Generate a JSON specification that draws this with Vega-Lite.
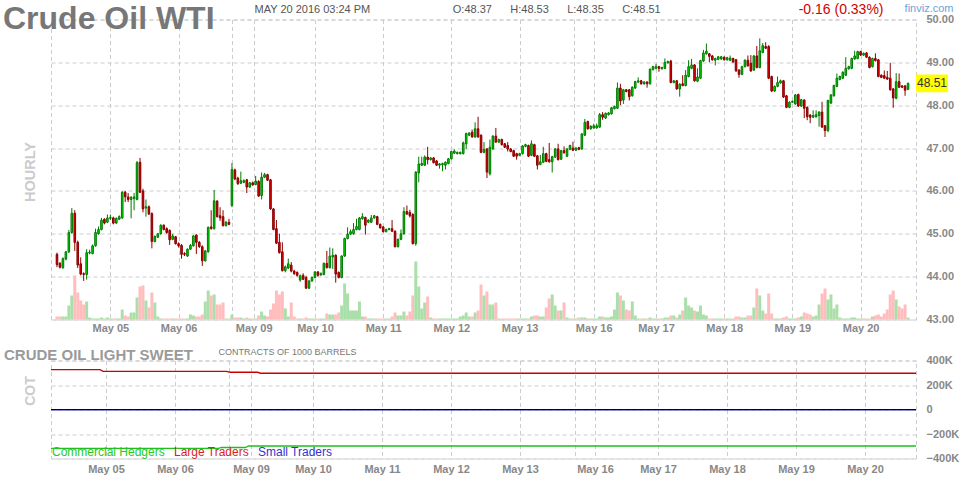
{
  "$schema": "https://vega.github.io/schema/vega-lite/v6.json",
  "padding": {"left": 2, "top": 1.5, "right": 5, "bottom": 2},
  "spacing": 41,
  "bounds": "flush",
  "resolve": {"scale": {"color": "independent"}, "legend": {"color": "independent"}},
  "config": {
    "font": "Liberation Sans",
    "view": {"stroke": "#cccccc", "strokeDash": [4, 3]},
    "axis": {"domain": false, "ticks": false, "tickSize": 0, "labelColor": "#888888", "labelFontSize": 11, "labelFontWeight": "bold", "gridColor": "#cccccc", "gridDash": [4, 3], "gridWidth": 1}
  },
  "datasets": {
    "candles": [
      {"i":0,"o":44.52,"h":44.56,"l":44.22,"c":44.28,"v":3},
      {"i":1,"o":44.31,"h":44.34,"l":44.19,"c":44.22,"v":3},
      {"i":2,"o":44.21,"h":44.45,"l":44.18,"c":44.42,"v":3},
      {"i":3,"o":44.41,"h":44.6,"l":44.38,"c":44.58,"v":3},
      {"i":4,"o":44.58,"h":45.09,"l":44.55,"c":45.03,"v":14},
      {"i":5,"o":45.03,"h":45.6,"l":45.0,"c":45.48,"v":24},
      {"i":6,"o":45.48,"h":45.55,"l":44.6,"c":44.8,"v":44},
      {"i":7,"o":44.8,"h":44.84,"l":44.2,"c":44.27,"v":27},
      {"i":8,"o":44.3,"h":44.45,"l":44.03,"c":44.06,"v":19},
      {"i":9,"o":44.07,"h":44.1,"l":43.9,"c":44.05,"v":15},
      {"i":10,"o":44.05,"h":44.64,"l":43.93,"c":44.56,"v":18},
      {"i":11,"o":44.55,"h":44.63,"l":44.52,"c":44.57,"v":2},
      {"i":12,"o":44.54,"h":44.75,"l":44.52,"c":44.72,"v":1},
      {"i":13,"o":44.72,"h":45.12,"l":44.7,"c":45.03,"v":1},
      {"i":14,"o":45.0,"h":45.17,"l":44.98,"c":45.1,"v":1},
      {"i":15,"o":45.1,"h":45.37,"l":45.08,"c":45.32,"v":2},
      {"i":16,"o":45.34,"h":45.36,"l":45.22,"c":45.25,"v":1},
      {"i":17,"o":45.27,"h":45.45,"l":45.25,"c":45.37,"v":2},
      {"i":18,"o":45.36,"h":45.45,"l":45.32,"c":45.38,"v":1},
      {"i":19,"o":45.37,"h":45.4,"l":45.22,"c":45.25,"v":1},
      {"i":20,"o":45.25,"h":45.38,"l":45.23,"c":45.36,"v":1},
      {"i":21,"o":45.34,"h":45.43,"l":45.32,"c":45.4,"v":1},
      {"i":22,"o":45.37,"h":45.99,"l":45.35,"c":45.97,"v":10},
      {"i":23,"o":45.97,"h":46.0,"l":45.74,"c":45.86,"v":4},
      {"i":24,"o":45.86,"h":45.95,"l":45.74,"c":45.8,"v":3},
      {"i":25,"o":45.8,"h":45.88,"l":45.36,"c":45.85,"v":7},
      {"i":26,"o":45.82,"h":45.95,"l":45.55,"c":45.86,"v":7},
      {"i":27,"o":45.8,"h":46.7,"l":45.78,"c":46.66,"v":22},
      {"i":28,"o":46.67,"h":46.77,"l":45.95,"c":45.97,"v":33},
      {"i":29,"o":46.0,"h":46.05,"l":45.5,"c":45.58,"v":34},
      {"i":30,"o":45.6,"h":45.8,"l":45.4,"c":45.63,"v":19},
      {"i":31,"o":45.63,"h":45.66,"l":45.44,"c":45.46,"v":12},
      {"i":32,"o":45.47,"h":45.5,"l":44.66,"c":44.82,"v":27},
      {"i":33,"o":44.82,"h":44.96,"l":44.8,"c":44.94,"v":17},
      {"i":34,"o":44.92,"h":45.02,"l":44.9,"c":45.0,"v":3},
      {"i":35,"o":45.0,"h":45.22,"l":44.98,"c":45.2,"v":1},
      {"i":36,"o":45.2,"h":45.22,"l":45.08,"c":45.1,"v":1},
      {"i":37,"o":45.12,"h":45.15,"l":45.0,"c":45.03,"v":1},
      {"i":38,"o":45.08,"h":45.1,"l":44.74,"c":44.86,"v":1},
      {"i":39,"o":44.87,"h":45.0,"l":44.85,"c":44.95,"v":1},
      {"i":40,"o":44.93,"h":44.95,"l":44.75,"c":44.77,"v":1},
      {"i":41,"o":44.77,"h":44.8,"l":44.68,"c":44.72,"v":1},
      {"i":42,"o":44.73,"h":44.76,"l":44.42,"c":44.52,"v":1},
      {"i":43,"o":44.54,"h":44.57,"l":44.48,"c":44.52,"v":1},
      {"i":44,"o":44.48,"h":44.66,"l":44.46,"c":44.64,"v":1},
      {"i":45,"o":44.64,"h":44.76,"l":44.62,"c":44.73,"v":5},
      {"i":46,"o":44.72,"h":44.97,"l":44.7,"c":44.95,"v":4},
      {"i":47,"o":44.97,"h":44.99,"l":44.53,"c":44.8,"v":3},
      {"i":48,"o":44.8,"h":44.83,"l":44.67,"c":44.7,"v":3},
      {"i":49,"o":44.7,"h":44.73,"l":44.25,"c":44.37,"v":5},
      {"i":50,"o":44.37,"h":44.62,"l":44.35,"c":44.6,"v":18},
      {"i":51,"o":44.58,"h":45.17,"l":44.56,"c":45.15,"v":29},
      {"i":52,"o":45.16,"h":45.55,"l":45.1,"c":45.12,"v":24},
      {"i":53,"o":45.12,"h":46.02,"l":45.1,"c":45.77,"v":25},
      {"i":54,"o":45.76,"h":45.79,"l":45.38,"c":45.4,"v":15},
      {"i":55,"o":45.42,"h":45.62,"l":45.3,"c":45.37,"v":15},
      {"i":56,"o":45.4,"h":45.55,"l":45.17,"c":45.19,"v":17},
      {"i":57,"o":45.19,"h":45.3,"l":45.17,"c":45.27,"v":1},
      {"i":58,"o":45.27,"h":45.35,"l":45.2,"c":45.22,"v":1},
      {"i":59,"o":45.66,"h":46.65,"l":45.62,"c":46.5,"v":5},
      {"i":60,"o":46.49,"h":46.52,"l":46.25,"c":46.28,"v":2},
      {"i":61,"o":46.3,"h":46.33,"l":46.14,"c":46.17,"v":2},
      {"i":62,"o":46.18,"h":46.45,"l":46.16,"c":46.24,"v":2},
      {"i":63,"o":46.2,"h":46.27,"l":46.18,"c":46.24,"v":1},
      {"i":64,"o":46.26,"h":46.28,"l":45.95,"c":46.09,"v":2},
      {"i":65,"o":46.09,"h":46.21,"l":46.07,"c":46.19,"v":1},
      {"i":66,"o":46.19,"h":46.22,"l":46.12,"c":46.14,"v":1},
      {"i":67,"o":46.15,"h":46.35,"l":46.13,"c":46.23,"v":1},
      {"i":68,"o":46.22,"h":46.25,"l":45.86,"c":45.88,"v":4},
      {"i":69,"o":45.89,"h":46.43,"l":45.8,"c":46.32,"v":8},
      {"i":70,"o":46.32,"h":46.42,"l":46.3,"c":46.38,"v":4},
      {"i":71,"o":46.38,"h":46.4,"l":46.23,"c":46.25,"v":3},
      {"i":72,"o":46.26,"h":46.28,"l":45.56,"c":45.58,"v":10},
      {"i":73,"o":45.58,"h":45.6,"l":45.08,"c":45.1,"v":16},
      {"i":74,"o":45.12,"h":45.32,"l":44.76,"c":44.78,"v":29},
      {"i":75,"o":44.8,"h":45.0,"l":44.54,"c":44.56,"v":25},
      {"i":76,"o":44.58,"h":44.8,"l":44.12,"c":44.14,"v":28},
      {"i":77,"o":44.14,"h":44.26,"l":44.1,"c":44.23,"v":11},
      {"i":78,"o":44.2,"h":44.42,"l":44.18,"c":44.3,"v":3},
      {"i":79,"o":44.27,"h":44.34,"l":44.1,"c":44.13,"v":17},
      {"i":80,"o":44.13,"h":44.16,"l":44.04,"c":44.07,"v":3},
      {"i":81,"o":44.1,"h":44.12,"l":44.0,"c":44.03,"v":1},
      {"i":82,"o":43.92,"h":44.05,"l":43.88,"c":44.02,"v":1},
      {"i":83,"o":44.03,"h":44.08,"l":43.92,"c":43.94,"v":1},
      {"i":84,"o":43.98,"h":44.02,"l":43.72,"c":43.73,"v":2},
      {"i":85,"o":43.73,"h":43.92,"l":43.71,"c":43.9,"v":1},
      {"i":86,"o":43.9,"h":44.0,"l":43.88,"c":43.98,"v":1},
      {"i":87,"o":43.98,"h":44.13,"l":43.96,"c":44.11,"v":1},
      {"i":88,"o":44.11,"h":44.13,"l":44.0,"c":44.03,"v":1},
      {"i":89,"o":44.04,"h":44.1,"l":44.02,"c":44.07,"v":1},
      {"i":90,"o":44.05,"h":44.33,"l":44.03,"c":44.31,"v":1},
      {"i":91,"o":44.31,"h":44.6,"l":44.19,"c":44.21,"v":6},
      {"i":92,"o":44.21,"h":44.68,"l":44.19,"c":44.48,"v":5},
      {"i":93,"o":44.46,"h":44.66,"l":44.18,"c":44.5,"v":5},
      {"i":94,"o":44.5,"h":44.52,"l":43.86,"c":44.06,"v":5},
      {"i":95,"o":44.1,"h":44.12,"l":43.96,"c":43.98,"v":7},
      {"i":96,"o":43.98,"h":44.5,"l":43.96,"c":44.48,"v":14},
      {"i":97,"o":44.48,"h":44.91,"l":44.46,"c":44.89,"v":36},
      {"i":98,"o":44.89,"h":45.15,"l":44.87,"c":44.99,"v":26},
      {"i":99,"o":44.99,"h":45.1,"l":44.97,"c":45.05,"v":9},
      {"i":100,"o":45.0,"h":45.25,"l":44.98,"c":45.1,"v":9},
      {"i":101,"o":45.1,"h":45.35,"l":45.08,"c":45.17,"v":9},
      {"i":102,"o":45.1,"h":45.39,"l":45.08,"c":45.37,"v":18},
      {"i":103,"o":45.35,"h":45.48,"l":45.33,"c":45.4,"v":3},
      {"i":104,"o":45.38,"h":45.4,"l":44.98,"c":45.2,"v":3},
      {"i":105,"o":45.27,"h":45.34,"l":45.25,"c":45.32,"v":1},
      {"i":106,"o":45.27,"h":45.44,"l":45.25,"c":45.37,"v":1},
      {"i":107,"o":45.37,"h":45.44,"l":45.35,"c":45.42,"v":1},
      {"i":108,"o":45.4,"h":45.42,"l":45.2,"c":45.22,"v":1},
      {"i":109,"o":45.22,"h":45.24,"l":45.12,"c":45.14,"v":1},
      {"i":110,"o":45.16,"h":45.18,"l":45.03,"c":45.05,"v":1},
      {"i":111,"o":45.05,"h":45.12,"l":45.03,"c":45.1,"v":1},
      {"i":112,"o":45.1,"h":45.14,"l":45.08,"c":45.12,"v":1},
      {"i":113,"o":45.12,"h":45.32,"l":45.04,"c":45.06,"v":3},
      {"i":114,"o":45.06,"h":45.08,"l":44.68,"c":44.7,"v":7},
      {"i":115,"o":44.7,"h":44.89,"l":44.68,"c":44.87,"v":4},
      {"i":116,"o":44.87,"h":45.1,"l":44.85,"c":45.0,"v":4},
      {"i":117,"o":45.0,"h":45.62,"l":44.98,"c":45.52,"v":8},
      {"i":118,"o":45.52,"h":45.66,"l":45.44,"c":45.46,"v":4},
      {"i":119,"o":45.5,"h":45.56,"l":45.38,"c":45.42,"v":8},
      {"i":120,"o":45.45,"h":45.48,"l":44.75,"c":44.77,"v":24},
      {"i":121,"o":44.77,"h":46.46,"l":44.72,"c":46.44,"v":58},
      {"i":122,"o":46.42,"h":46.8,"l":46.2,"c":46.63,"v":33},
      {"i":123,"o":46.6,"h":46.8,"l":46.58,"c":46.64,"v":11},
      {"i":124,"o":46.6,"h":46.83,"l":46.58,"c":46.79,"v":17},
      {"i":125,"o":46.79,"h":47.03,"l":46.62,"c":46.73,"v":23},
      {"i":126,"o":46.73,"h":46.79,"l":46.71,"c":46.77,"v":2},
      {"i":127,"o":46.77,"h":46.79,"l":46.64,"c":46.66,"v":1},
      {"i":128,"o":46.7,"h":46.72,"l":46.58,"c":46.6,"v":1},
      {"i":129,"o":46.6,"h":46.65,"l":46.52,"c":46.63,"v":1},
      {"i":130,"o":46.61,"h":46.66,"l":46.46,"c":46.64,"v":1},
      {"i":131,"o":46.6,"h":46.69,"l":46.5,"c":46.67,"v":1},
      {"i":132,"o":46.64,"h":46.77,"l":46.62,"c":46.75,"v":1},
      {"i":133,"o":46.75,"h":46.94,"l":46.73,"c":46.92,"v":1},
      {"i":134,"o":46.88,"h":46.97,"l":46.86,"c":46.93,"v":1},
      {"i":135,"o":46.87,"h":46.92,"l":46.85,"c":46.9,"v":1},
      {"i":136,"o":46.87,"h":46.92,"l":46.85,"c":46.9,"v":3},
      {"i":137,"o":46.87,"h":47.15,"l":46.85,"c":47.12,"v":4},
      {"i":138,"o":47.1,"h":47.36,"l":46.98,"c":47.34,"v":7},
      {"i":139,"o":47.3,"h":47.37,"l":47.28,"c":47.35,"v":3},
      {"i":140,"o":47.37,"h":47.43,"l":47.24,"c":47.26,"v":3},
      {"i":141,"o":47.26,"h":47.6,"l":47.24,"c":47.45,"v":7},
      {"i":142,"o":47.45,"h":47.73,"l":47.24,"c":47.26,"v":9},
      {"i":143,"o":47.3,"h":47.32,"l":46.88,"c":46.9,"v":35},
      {"i":144,"o":46.9,"h":47.14,"l":46.88,"c":46.97,"v":24},
      {"i":145,"o":46.98,"h":47.0,"l":46.3,"c":46.44,"v":28},
      {"i":146,"o":46.4,"h":47.2,"l":46.36,"c":47.02,"v":15},
      {"i":147,"o":46.98,"h":47.3,"l":46.96,"c":47.28,"v":15},
      {"i":148,"o":47.28,"h":47.47,"l":47.12,"c":47.14,"v":17},
      {"i":149,"o":47.14,"h":47.22,"l":47.12,"c":47.2,"v":1},
      {"i":150,"o":47.2,"h":47.22,"l":47.06,"c":47.08,"v":1},
      {"i":151,"o":47.1,"h":47.12,"l":47.0,"c":47.02,"v":1},
      {"i":152,"o":47.06,"h":47.14,"l":46.92,"c":46.98,"v":1},
      {"i":153,"o":46.98,"h":47.0,"l":46.9,"c":46.92,"v":1},
      {"i":154,"o":46.94,"h":46.96,"l":46.79,"c":46.81,"v":1},
      {"i":155,"o":46.87,"h":46.89,"l":46.73,"c":46.81,"v":1},
      {"i":156,"o":46.83,"h":46.89,"l":46.81,"c":46.87,"v":1},
      {"i":157,"o":46.87,"h":47.07,"l":46.85,"c":47.05,"v":1},
      {"i":158,"o":47.04,"h":47.1,"l":47.02,"c":47.08,"v":1},
      {"i":159,"o":47.06,"h":47.08,"l":46.79,"c":46.81,"v":1},
      {"i":160,"o":46.83,"h":47.18,"l":46.81,"c":47.1,"v":3},
      {"i":161,"o":47.08,"h":47.1,"l":46.79,"c":46.81,"v":4},
      {"i":162,"o":46.82,"h":46.84,"l":46.5,"c":46.6,"v":4},
      {"i":163,"o":46.62,"h":46.84,"l":46.6,"c":46.68,"v":3},
      {"i":164,"o":46.67,"h":47.03,"l":46.65,"c":46.87,"v":3},
      {"i":165,"o":46.87,"h":46.89,"l":46.67,"c":46.69,"v":12},
      {"i":166,"o":46.73,"h":47.12,"l":46.66,"c":46.68,"v":21},
      {"i":167,"o":46.68,"h":46.82,"l":46.43,"c":46.8,"v":25},
      {"i":168,"o":46.79,"h":47.0,"l":46.77,"c":46.98,"v":14},
      {"i":169,"o":46.98,"h":47.1,"l":46.71,"c":46.73,"v":9},
      {"i":170,"o":46.74,"h":46.96,"l":46.72,"c":46.94,"v":9},
      {"i":171,"o":46.94,"h":47.04,"l":46.87,"c":46.89,"v":17},
      {"i":172,"o":46.81,"h":47.0,"l":46.79,"c":46.98,"v":2},
      {"i":173,"o":46.97,"h":47.08,"l":46.95,"c":47.06,"v":1},
      {"i":174,"o":47.0,"h":47.15,"l":46.93,"c":46.95,"v":1},
      {"i":175,"o":46.95,"h":47.02,"l":46.93,"c":47.0,"v":1},
      {"i":176,"o":47.01,"h":47.03,"l":46.95,"c":46.97,"v":2},
      {"i":177,"o":46.98,"h":47.35,"l":46.96,"c":47.33,"v":2},
      {"i":178,"o":47.3,"h":47.68,"l":47.28,"c":47.6,"v":2},
      {"i":179,"o":47.62,"h":47.64,"l":47.43,"c":47.45,"v":1},
      {"i":180,"o":47.45,"h":47.53,"l":47.43,"c":47.51,"v":1},
      {"i":181,"o":47.47,"h":47.57,"l":47.45,"c":47.52,"v":1},
      {"i":182,"o":47.47,"h":47.57,"l":47.45,"c":47.52,"v":1},
      {"i":183,"o":47.49,"h":47.82,"l":47.47,"c":47.78,"v":3},
      {"i":184,"o":47.78,"h":47.84,"l":47.66,"c":47.72,"v":3},
      {"i":185,"o":47.7,"h":47.83,"l":47.68,"c":47.81,"v":2},
      {"i":186,"o":47.78,"h":47.84,"l":47.76,"c":47.82,"v":2},
      {"i":187,"o":47.8,"h":47.96,"l":47.78,"c":47.94,"v":3},
      {"i":188,"o":47.92,"h":47.99,"l":47.9,"c":47.97,"v":10},
      {"i":189,"o":47.93,"h":48.53,"l":47.91,"c":48.4,"v":27},
      {"i":190,"o":48.4,"h":48.5,"l":48.0,"c":48.1,"v":24},
      {"i":191,"o":48.12,"h":48.38,"l":48.03,"c":48.36,"v":19},
      {"i":192,"o":48.36,"h":48.38,"l":48.3,"c":48.32,"v":10},
      {"i":193,"o":48.36,"h":48.38,"l":48.11,"c":48.2,"v":9},
      {"i":194,"o":48.22,"h":48.44,"l":48.2,"c":48.42,"v":18},
      {"i":195,"o":48.4,"h":48.57,"l":48.38,"c":48.55,"v":4},
      {"i":196,"o":48.54,"h":48.65,"l":48.52,"c":48.57,"v":1},
      {"i":197,"o":48.57,"h":48.59,"l":48.48,"c":48.5,"v":1},
      {"i":198,"o":48.5,"h":48.56,"l":48.48,"c":48.54,"v":1},
      {"i":199,"o":48.54,"h":48.56,"l":48.41,"c":48.5,"v":1},
      {"i":200,"o":48.5,"h":48.86,"l":48.48,"c":48.84,"v":2},
      {"i":201,"o":48.83,"h":48.92,"l":48.81,"c":48.9,"v":1},
      {"i":202,"o":48.86,"h":48.96,"l":48.84,"c":48.9,"v":1},
      {"i":203,"o":48.9,"h":48.92,"l":48.78,"c":48.86,"v":1},
      {"i":204,"o":48.85,"h":48.9,"l":48.83,"c":48.88,"v":1},
      {"i":205,"o":48.86,"h":49.09,"l":48.84,"c":49.0,"v":2},
      {"i":206,"o":48.99,"h":49.04,"l":48.97,"c":49.02,"v":2},
      {"i":207,"o":49.03,"h":49.06,"l":48.51,"c":48.53,"v":4},
      {"i":208,"o":48.53,"h":48.59,"l":48.51,"c":48.57,"v":4},
      {"i":209,"o":48.57,"h":48.59,"l":48.36,"c":48.38,"v":2},
      {"i":210,"o":48.38,"h":48.51,"l":48.2,"c":48.49,"v":5},
      {"i":211,"o":48.5,"h":48.7,"l":48.44,"c":48.46,"v":9},
      {"i":212,"o":48.46,"h":48.82,"l":48.44,"c":48.7,"v":22},
      {"i":213,"o":48.67,"h":49.05,"l":48.65,"c":48.9,"v":14},
      {"i":214,"o":48.86,"h":49.08,"l":48.84,"c":48.94,"v":12},
      {"i":215,"o":48.94,"h":48.96,"l":48.55,"c":48.57,"v":9},
      {"i":216,"o":48.56,"h":48.86,"l":48.54,"c":48.66,"v":8},
      {"i":217,"o":48.63,"h":49.06,"l":48.61,"c":49.04,"v":14},
      {"i":218,"o":49.03,"h":49.29,"l":49.01,"c":49.22,"v":5},
      {"i":219,"o":49.2,"h":49.44,"l":49.18,"c":49.26,"v":4},
      {"i":220,"o":49.2,"h":49.22,"l":49.0,"c":49.14,"v":1},
      {"i":221,"o":49.15,"h":49.17,"l":49.04,"c":49.06,"v":1},
      {"i":222,"o":49.05,"h":49.11,"l":48.93,"c":49.09,"v":1},
      {"i":223,"o":49.07,"h":49.15,"l":49.05,"c":49.13,"v":1},
      {"i":224,"o":49.08,"h":49.15,"l":49.06,"c":49.13,"v":1},
      {"i":225,"o":49.12,"h":49.14,"l":49.04,"c":49.06,"v":1},
      {"i":226,"o":49.06,"h":49.13,"l":49.04,"c":49.11,"v":1},
      {"i":227,"o":49.05,"h":49.16,"l":49.03,"c":49.1,"v":1},
      {"i":228,"o":49.09,"h":49.11,"l":48.99,"c":49.01,"v":1},
      {"i":229,"o":49.06,"h":49.08,"l":48.78,"c":48.8,"v":3},
      {"i":230,"o":48.82,"h":48.84,"l":48.64,"c":48.72,"v":3},
      {"i":231,"o":48.72,"h":48.92,"l":48.7,"c":48.9,"v":2},
      {"i":232,"o":48.9,"h":49.07,"l":48.88,"c":49.05,"v":2},
      {"i":233,"o":49.05,"h":49.16,"l":48.9,"c":48.92,"v":4},
      {"i":234,"o":48.98,"h":49.17,"l":48.78,"c":48.8,"v":4},
      {"i":235,"o":48.82,"h":49.17,"l":48.8,"c":49.15,"v":12},
      {"i":236,"o":49.15,"h":49.38,"l":48.86,"c":48.88,"v":31},
      {"i":237,"o":48.88,"h":49.56,"l":48.86,"c":49.27,"v":24},
      {"i":238,"o":49.23,"h":49.45,"l":49.21,"c":49.39,"v":9},
      {"i":239,"o":49.37,"h":49.47,"l":49.31,"c":49.33,"v":6},
      {"i":240,"o":49.37,"h":49.4,"l":48.61,"c":48.63,"v":26},
      {"i":241,"o":48.67,"h":48.69,"l":48.31,"c":48.33,"v":6},
      {"i":242,"o":48.33,"h":48.46,"l":48.31,"c":48.44,"v":1},
      {"i":243,"o":48.44,"h":48.67,"l":48.42,"c":48.53,"v":1},
      {"i":244,"o":48.52,"h":48.6,"l":48.5,"c":48.57,"v":1},
      {"i":245,"o":48.57,"h":48.59,"l":48.17,"c":48.19,"v":2},
      {"i":246,"o":48.22,"h":48.24,"l":47.93,"c":47.95,"v":3},
      {"i":247,"o":47.95,"h":48.09,"l":47.93,"c":48.07,"v":1},
      {"i":248,"o":48.07,"h":48.11,"l":48.05,"c":48.09,"v":1},
      {"i":249,"o":48.03,"h":48.26,"l":48.01,"c":48.24,"v":1},
      {"i":250,"o":48.25,"h":48.27,"l":47.96,"c":47.98,"v":2},
      {"i":251,"o":47.98,"h":48.15,"l":47.96,"c":48.13,"v":3},
      {"i":252,"o":48.12,"h":48.14,"l":47.7,"c":47.93,"v":7},
      {"i":253,"o":47.95,"h":47.97,"l":47.65,"c":47.73,"v":6},
      {"i":254,"o":47.77,"h":47.79,"l":47.58,"c":47.72,"v":5},
      {"i":255,"o":47.72,"h":47.88,"l":47.7,"c":47.76,"v":3},
      {"i":256,"o":47.73,"h":47.88,"l":47.71,"c":47.78,"v":4},
      {"i":257,"o":47.76,"h":47.86,"l":47.5,"c":47.84,"v":15},
      {"i":258,"o":47.84,"h":48.08,"l":47.47,"c":47.49,"v":26},
      {"i":259,"o":47.52,"h":47.54,"l":47.26,"c":47.41,"v":31},
      {"i":260,"o":47.41,"h":48.13,"l":47.37,"c":48.11,"v":20},
      {"i":261,"o":48.05,"h":48.26,"l":48.03,"c":48.24,"v":25},
      {"i":262,"o":48.22,"h":48.48,"l":48.2,"c":48.46,"v":11},
      {"i":263,"o":48.44,"h":48.74,"l":48.42,"c":48.63,"v":15},
      {"i":264,"o":48.6,"h":48.69,"l":48.58,"c":48.67,"v":2},
      {"i":265,"o":48.63,"h":48.79,"l":48.61,"c":48.77,"v":1},
      {"i":266,"o":48.7,"h":49.12,"l":48.68,"c":48.86,"v":1},
      {"i":267,"o":48.85,"h":48.92,"l":48.83,"c":48.9,"v":1},
      {"i":268,"o":48.86,"h":49.11,"l":48.84,"c":49.09,"v":2},
      {"i":269,"o":49.08,"h":49.27,"l":49.06,"c":49.15,"v":2},
      {"i":270,"o":49.09,"h":49.27,"l":49.07,"c":49.25,"v":1},
      {"i":271,"o":49.25,"h":49.27,"l":49.15,"c":49.17,"v":1},
      {"i":272,"o":49.17,"h":49.23,"l":49.15,"c":49.21,"v":1},
      {"i":273,"o":49.22,"h":49.24,"l":49.1,"c":49.12,"v":1},
      {"i":274,"o":49.12,"h":49.14,"l":48.86,"c":48.88,"v":1},
      {"i":275,"o":48.9,"h":49.11,"l":48.88,"c":49.09,"v":3},
      {"i":276,"o":49.09,"h":49.21,"l":49.02,"c":49.04,"v":4},
      {"i":277,"o":49.06,"h":49.08,"l":48.65,"c":48.67,"v":5},
      {"i":278,"o":48.7,"h":48.72,"l":48.63,"c":48.65,"v":3},
      {"i":279,"o":48.69,"h":48.81,"l":48.61,"c":48.63,"v":6},
      {"i":280,"o":48.65,"h":48.8,"l":48.59,"c":48.61,"v":10},
      {"i":281,"o":48.63,"h":48.99,"l":48.34,"c":48.36,"v":25},
      {"i":282,"o":48.38,"h":48.4,"l":47.94,"c":48.17,"v":29},
      {"i":283,"o":48.16,"h":48.75,"l":48.14,"c":48.55,"v":20},
      {"i":284,"o":48.55,"h":48.74,"l":48.4,"c":48.42,"v":13},
      {"i":285,"o":48.45,"h":48.47,"l":48.4,"c":48.42,"v":11},
      {"i":286,"o":48.45,"h":48.47,"l":48.22,"c":48.35,"v":15},
      {"i":287,"o":48.37,"h":48.53,"l":48.35,"c":48.51,"v":2}
    ],
    "cot": [
      {"i":-0.3333,"v":325000,"s":"Large Traders"},
      {"i":16,"v":325000,"s":"Large Traders"},
      {"i":17,"v":312000,"s":"Large Traders"},
      {"i":58,"v":312000,"s":"Large Traders"},
      {"i":59.5,"v":304000,"s":"Large Traders"},
      {"i":68.5,"v":304000,"s":"Large Traders"},
      {"i":69.5,"v":296000,"s":"Large Traders"},
      {"i":288,"v":296000,"s":"Large Traders"},
      {"i":-0.3333,"v":-318000,"s":"Commercial Hedgers"},
      {"i":55.5,"v":-318000,"s":"Commercial Hedgers"},
      {"i":56.5,"v":-310000,"s":"Commercial Hedgers"},
      {"i":64.5,"v":-310000,"s":"Commercial Hedgers"},
      {"i":65.5,"v":-298000,"s":"Commercial Hedgers"},
      {"i":288,"v":-298000,"s":"Commercial Hedgers"},
      {"i":-0.3333,"v":-3000,"s":"Small Traders"},
      {"i":288,"v":-3000,"s":"Small Traders"}
    ],
    "zero": [{"z": 0}]
  },
  "vconcat": [
    {
      "width": 865,
      "height": 300,
      "title": {"text": "Crude Oil WTI", "anchor": "start", "frame": "group", "dx": -48, "offset": 0, "dy": 58.5, "baseline": "alphabetic", "fontSize": 32, "fontWeight": "bold", "color": "#777777"},
      "data": {"name": "candles"},
      "layer": [
        {
          "mark": {"type": "bar", "size": 3},
          "encoding": {
            "x": {"field": "i", "type": "quantitative", "scale": {"domain": [-0.3333, 288], "nice": false, "zero": false},
              "axis": {"orient": "top", "labels": false, "grid": false, "title": "MAY 20 2016 03:24 PM\u00a0\u00a0\u00a0\u00a0\u00a0\u00a0\u00a0\u00a0\u00a0\u00a0\u00a0\u00a0\u00a0\u00a0\u00a0\u00a0\u00a0\u00a0\u00a0\u00a0\u00a0\u00a0\u00a0\u00a0\u00a0\u00a0\u00a0O:48.37\u00a0\u00a0\u00a0\u00a0\u00a0\u00a0H:48.53\u00a0\u00a0\u00a0\u00a0\u00a0\u00a0L:48.35\u00a0\u00a0\u00a0\u00a0\u00a0\u00a0C:48.51", "titleX": 203, "titleY": -10, "titleAlign": "left", "titleAngle": 0, "titleBaseline": "middle", "titleFontSize": 11, "titleFontWeight": "normal", "titleColor": "#555555"}},
            "y": {"field": "v", "type": "quantitative", "scale": {"domain": [0, 300], "nice": false},
              "axis": {"orient": "left", "labels": false, "grid": false, "title": "HOURLY", "titleX": -14, "titleY": 152, "titleAngle": 270, "titleBaseline": "bottom", "titleAlign": "center", "titleFontSize": 14.5, "titleFontWeight": "bold", "titleColor": "#cccccc"}},
            "fill": {"condition": {"test": "datum.c >= datum.o", "value": "#aadfaa"}, "value": "#ffbdbd"}
          }
        },
        {
          "layer": [
            {
              "mark": {"type": "rule", "strokeWidth": 1},
              "encoding": {
                "x": {"field": "i", "type": "quantitative", "scale": {"domain": [-0.3333, 288], "nice": false, "zero": false},
                  "axis": {"orient": "bottom", "values": [18, 41, 59, 66.33, 87, 110, 133, 156, 174.2, 181, 202, 225, 248, 271], "labelExpr": "datum.value==18?'May 05':datum.value==41?'May 06':datum.value==66.33?'May 09':datum.value==87?'May 10':datum.value==110?'May 11':datum.value==133?'May 12':datum.value==156?'May 13':datum.value==181?'May 16':datum.value==202?'May 17':datum.value==225?'May 18':datum.value==248?'May 19':datum.value==271?'May 20':''", "labelOverlap": false, "labelFlush": false, "labelPadding": 3, "grid": true, "title": "-0.16 (0.33%)", "titleX": 832, "titleY": -310, "titleAlign": "right", "titleAngle": 0, "titleBaseline": "middle", "titleFontSize": 14, "titleFontWeight": "normal", "titleColor": "#d40000"}},
                "y": {"field": "l", "type": "quantitative", "scale": {"domain": [43, 50], "nice": false, "zero": false},
                  "axis": {"orient": "right", "values": [43, 44, 45, 46, 47, 48, 49, 50], "format": ".2f", "labelPadding": 10, "grid": true, "title": "finviz.com", "titleX": 37, "titleY": -11, "titleAlign": "right", "titleAngle": 0, "titleBaseline": "middle", "titleFontSize": 11, "titleFontWeight": "normal", "titleColor": "#6aa3d8"}},
                "y2": {"field": "h"},
                "stroke": {"condition": {"test": "datum.c >= datum.o", "value": "#007a00"}, "value": "#8a0000"}
              }
            },
            {
              "mark": {"type": "bar", "size": 1.6, "strokeWidth": 1},
              "encoding": {
                "x": {"field": "i", "type": "quantitative"},
                "y": {"field": "o", "type": "quantitative"},
                "y2": {"field": "c"},
                "fill": {"condition": {"test": "datum.c >= datum.o", "value": "#00dd00"}, "value": "#e00000"},
                "stroke": {"condition": {"test": "datum.c >= datum.o", "value": "#007a00"}, "value": "#8a0000"}
              }
            },
            {
              "transform": [{"filter": "datum.i == 287"}],
              "mark": {"type": "point", "shape": "M-1,-0.55L1,-0.55L1,0.55L-1,0.55Z", "size": 1024, "filled": true, "fill": "#ffff00", "opacity": 1, "strokeWidth": 0, "xOffset": 24},
              "encoding": {
                "x": {"field": "i", "type": "quantitative"},
                "y": {"field": "c", "type": "quantitative"}
              }
            },
            {
              "transform": [{"filter": "datum.i == 287"}],
              "mark": {"type": "text", "dx": 24, "fontSize": 12, "color": "#333333", "align": "center", "baseline": "middle"},
              "encoding": {
                "x": {"field": "i", "type": "quantitative"},
                "y": {"field": "c", "type": "quantitative"},
                "text": {"field": "c", "type": "quantitative", "format": ".2f"}
              }
            }
          ]
        }
      ],
      "resolve": {"scale": {"y": "independent"}, "axis": {"x": "independent", "y": "independent"}}
    },
    {
      "width": 865,
      "height": 98,
      "title": {"text": "CRUDE OIL LIGHT SWEET", "anchor": "start", "frame": "group", "dx": -47, "offset": 0, "dy": 27.5, "baseline": "alphabetic", "fontSize": 15, "fontWeight": "bold", "color": "#9a9a9a"},
      "layer": [
        {
          "data": {"name": "cot"},
          "mark": {"type": "line", "strokeWidth": 1.3},
          "encoding": {
            "x": {"field": "i", "type": "quantitative", "scale": {"domain": [-0.3333, 288], "nice": false, "zero": false},
              "axis": {"orient": "bottom", "values": [18, 41, 59, 66.33, 87, 110, 133, 156, 174.2, 181, 202, 225, 248, 271], "labelExpr": "datum.value==18?'May 05':datum.value==41?'May 06':datum.value==66.33?'May 09':datum.value==87?'May 10':datum.value==110?'May 11':datum.value==133?'May 12':datum.value==156?'May 13':datum.value==181?'May 16':datum.value==202?'May 17':datum.value==225?'May 18':datum.value==248?'May 19':datum.value==271?'May 20':''", "labelOverlap": false, "labelFlush": false, "labelPadding": 5, "grid": true, "title": null}},
            "y": {"field": "v", "type": "quantitative", "scale": {"domain": [-400000, 400000], "nice": false},
              "axis": {"orient": "right", "values": [-400000, -200000, 0, 200000, 400000], "labelExpr": "datum.value == 0 ? '0' : format(datum.value / 1000, 'd') + 'K'", "labelPadding": 10, "grid": true, "title": null}},
            "color": {"field": "s", "type": "nominal",
              "scale": {"domain": ["Commercial Hedgers", "Large Traders", "Small Traders"], "range": ["#1fbf1f", "#cc0000", "#2a2ab0"]},
              "legend": {"title": null, "orient": "none", "legendX": 0, "legendY": 85, "direction": "horizontal", "symbolSize": 0, "symbolStrokeWidth": 0, "symbolOpacity": 0, "labelOffset": -11, "columnPadding": 8, "labelFontSize": 12, "padding": 0,
                "encode": {"labels": {"update": {"fill": {"signal": "datum.value == 'Commercial Hedgers' ? '#22cc22' : datum.value == 'Large Traders' ? '#dd2222' : '#3333cc'"}}}}}}
          }
        },
        {
          "data": {"name": "zero"},
          "mark": {"type": "rule", "color": "#000044", "strokeWidth": 1},
          "encoding": {
            "x": {"datum": -0.3333, "type": "quantitative",
              "axis": {"orient": "top", "labels": false, "grid": false, "title": "CONTRACTS OF 1000 BARRELS", "titleX": 167, "titleY": -9, "titleAlign": "left", "titleAngle": 0, "titleBaseline": "middle", "titleFontSize": 9, "titleFontWeight": "normal", "titleColor": "#777777"}},
            "x2": {"datum": 288},
            "y": {"field": "z", "type": "quantitative",
              "axis": {"orient": "left", "labels": false, "grid": false, "title": "COT", "titleX": -14, "titleY": 30, "titleAngle": 270, "titleBaseline": "bottom", "titleAlign": "center", "titleFontSize": 14, "titleFontWeight": "bold", "titleColor": "#cccccc"}}
          }
        }
      ],
      "resolve": {"axis": {"x": "independent", "y": "independent"}}
    }
  ]
}
